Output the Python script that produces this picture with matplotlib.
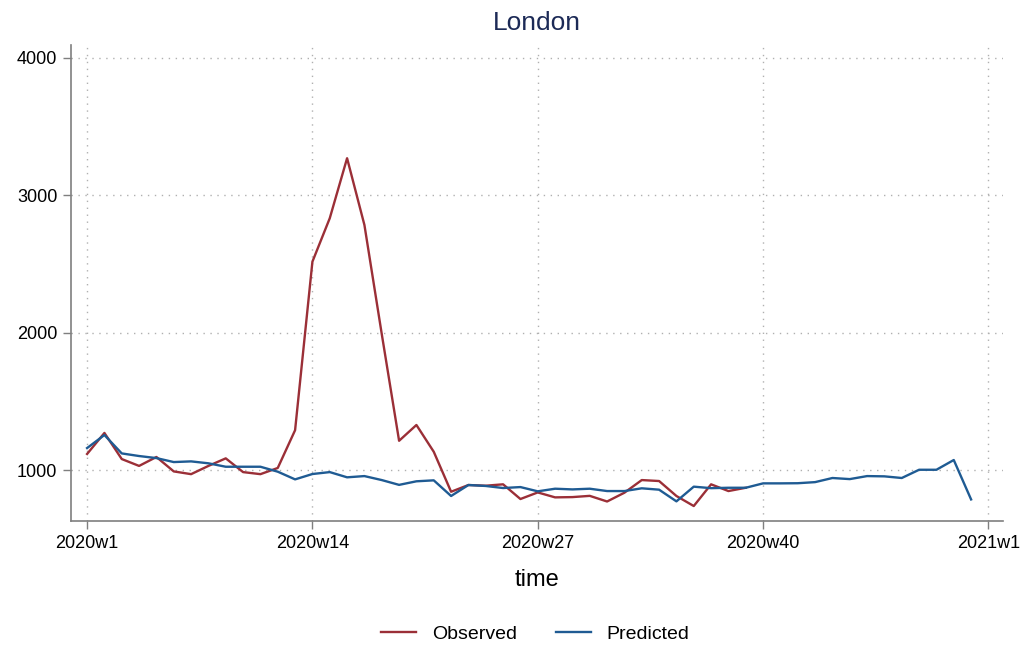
import matplotlib
matplotlib.use("Agg")
import matplotlib.pyplot as plt

# weekly deaths, London 2020
obs_weeks = list(range(1, 40))
observed = [1117, 1270, 1080, 1030, 1095, 990, 970, 1030, 1085, 985,
            970, 1015, 1290, 2517, 2833, 3270, 2784, 1990, 1213, 1328,
            1133, 842, 891, 886, 896, 789, 837, 801, 803, 812,
            771, 835, 927, 920, 811, 738, 896, 847, 871]

pred_weeks = list(range(1, 53))
predicted = [1160, 1255, 1121, 1102, 1087, 1058, 1063, 1049, 1024, 1024,
             1024, 988, 932, 971, 985, 947, 956, 927, 892, 918,
             925, 811, 891, 884, 869, 876, 845, 864, 859, 864,
             847, 847, 867, 857, 772, 879, 868, 871, 871, 903,
             903, 904, 912, 942, 934, 956, 954, 942, 1002, 1002,
             1073, 786]

xtick_pos = [1, 14, 27, 40, 53]
xtick_labels = ["2020w1", "2020w14", "2020w27", "2020w40", "2021w1"]
ytick_pos = [1000, 2000, 3000, 4000]

plt.rcParams['font.family'] = ['Liberation Sans', 'DejaVu Sans']

fig = plt.figure(figsize=(10.31, 6.46), dpi=100)
ax = fig.add_axes([0.069, 0.1935, 0.904, 0.737])

ax.plot(obs_weeks, observed, color='#9b2f37', lw=1.7, label='Observed')
ax.plot(pred_weeks, predicted, color='#1f5b93', lw=1.7, label='Predicted')

ax.set_xlim(0.08, 53.85)
ax.set_ylim(629, 4095)
ax.set_xticks(xtick_pos)
ax.set_xticklabels(xtick_labels)
ax.set_yticks(ytick_pos)
ax.tick_params(axis='both', labelsize=13, length=6, width=1, color='#7f7f7f', pad=4)

ax.grid(True, linestyle=(0, (1, 4)), color='#b0b0b0', lw=1)
for s in ['top', 'right']:
    ax.spines[s].set_visible(False)
for s in ['left', 'bottom']:
    ax.spines[s].set_color('#7f7f7f')
    ax.spines[s].set_linewidth(1.2)

ax.set_title("London", fontsize=19, color='#1c2a56', pad=11)
ax.set_xlabel("time", fontsize=17, labelpad=12)

fig.legend(loc='lower center', ncol=2, frameon=False, fontsize=14,
           bbox_to_anchor=(0.519, -0.022), handlelength=1.8,
           handletextpad=0.8, columnspacing=2.0)

fig.savefig("out.png", dpi=100)
